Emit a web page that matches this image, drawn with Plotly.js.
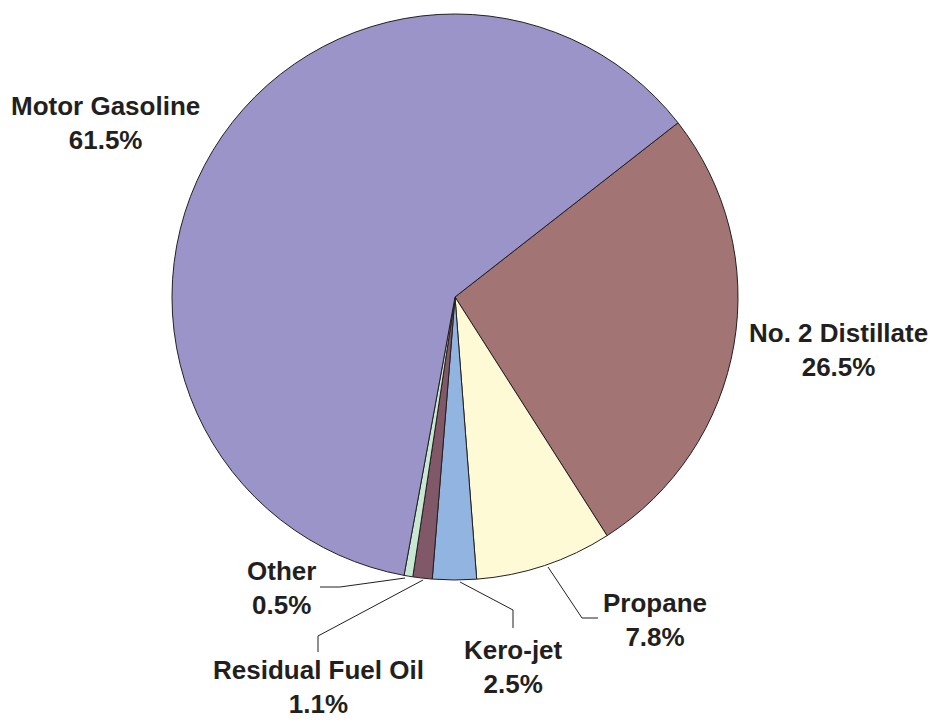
<!DOCTYPE html>
<html>
<head>
<meta charset="utf-8">
<script src="https://cdn.plot.ly/plotly-3.0.1.min.js"></script>
<style>html,body{margin:0;padding:0;background:#fff;}#chart{width:932px;height:721px;}</style>
</head>
<body>
<div id="chart"></div>
<script>
// Data
const categories = ["No. 2 Distillate", "Propane", "Kero-jet", "Residual Fuel Oil", "Other", "Motor Gasoline"];
const shares = [26.5, 7.8, 2.5, 1.1, 0.5, 61.5];
const sliceColors = ["#A27473", "#FFFAD6", "#92B4E0", "#805868", "#C8E8D4", "#9B94C9"];

// Label placement (pixels in the 932x721 canvas): block centre of each two-line label
const labelPos = {
  "No. 2 Distillate": [838, 350],
  "Propane": [655, 620],
  "Kero-jet": [513, 667],
  "Residual Fuel Oil": [318, 687],
  "Other": [281, 588],
  "Motor Gasoline": [105, 123]
};
// Leader lines (pixels)
const leaders = [
  [[548, 567], [582, 618], [598, 618]],
  [[460, 582], [513, 610], [513, 628]],
  [[423, 580], [318, 636], [318, 652]],
  [[405, 578], [340, 587], [320, 587]]
];

const W = 932, H = 721;
const px = x => x / W;
const py = y => 1 - y / H;

const cx = 455, cy = 297, R = 283;

const trace = {
  type: 'pie',
  labels: categories,
  values: shares,
  sort: false,
  direction: 'clockwise',
  rotation: 52,
  textinfo: 'none',
  hoverinfo: 'label+percent',
  marker: { colors: sliceColors, line: { color: '#231F20', width: 1 } },
  domain: { x: [px(cx - R), px(cx + R)], y: [py(cy + R), py(cy - R)] },
  showlegend: false
};

const annotations = categories.map((c, i) => ({
  xref: 'paper', yref: 'paper',
  x: px(labelPos[c][0]), y: py(labelPos[c][1]),
  xanchor: 'center', yanchor: 'middle',
  text: c + '<br>' + shares[i].toFixed(1) + '%',
  showarrow: false,
  align: 'center',
  font: { family: 'Liberation Sans, Arial, sans-serif', size: 26, color: '#231F20', weight: 'bold' }
}));

const shapes = leaders.map(pts => ({
  type: 'path',
  xref: 'paper', yref: 'paper',
  path: 'M ' + pts.map(p => px(p[0]) + ',' + py(p[1])).join(' L '),
  line: { color: '#231F20', width: 1 }
}));

const layout = {
  width: W, height: H,
  margin: { l: 0, r: 0, t: 0, b: 0 },
  paper_bgcolor: '#ffffff',
  annotations: annotations,
  shapes: shapes
};

Plotly.newPlot('chart', [trace], layout, { displayModeBar: false, staticPlot: true });
</script>
</body>
</html>
